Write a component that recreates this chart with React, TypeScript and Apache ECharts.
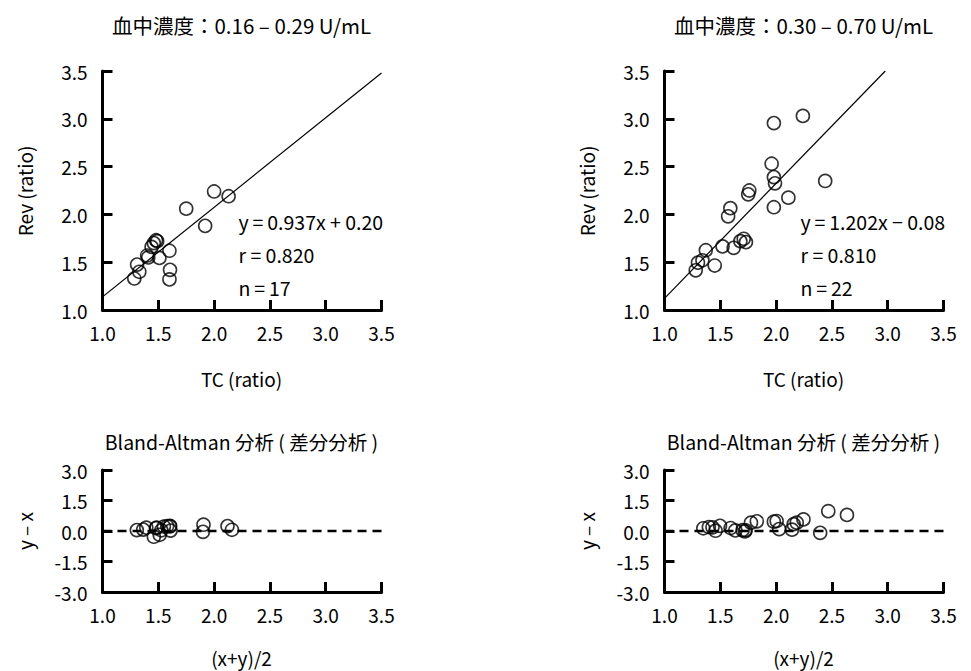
import React, { useEffect, useRef } from "react";
import * as echarts from "echarts";

// ---- data ----
const tcLow = [2.0, 2.13, 1.75, 1.92, 1.48, 1.49, 1.46, 1.44, 1.6, 1.4, 1.41, 1.51, 1.31, 1.33, 1.285, 1.605, 1.6];
const revLow = [2.24, 2.19, 2.06, 1.88, 1.73, 1.72, 1.7, 1.66, 1.62, 1.57, 1.55, 1.545, 1.475, 1.4, 1.33, 1.42, 1.32];

const tcHigh = [2.24, 1.98, 1.96, 1.98, 1.99, 2.44, 1.76, 1.75, 2.11, 1.98, 1.59, 1.57, 1.52, 1.62, 1.68, 1.71, 1.73, 1.37, 1.34, 1.3, 1.45, 1.28];
const revHigh = [3.03, 2.955, 2.53, 2.39, 2.325, 2.35, 2.25, 2.21, 2.175, 2.075, 2.065, 1.98, 1.665, 1.65, 1.72, 1.745, 1.71, 1.625, 1.52, 1.495, 1.465, 1.415];

// regression: [slope, intercept]
const fitLow = [0.937, 0.2];
const fitHigh = [1.202, -0.08];

const titles = ["血中濃度：0.16 – 0.29 U/mL", "血中濃度：0.30 – 0.70 U/mL"];
const baTitle = "Bland-Altman 分析 ( 差分分析 )";
const statsLow = ["y\u2009=\u20090.937x + 0.20", "r = 0.820", "n\u2009=\u200917"];
const statsHigh = ["y\u2009=\u20091.202x \u2212 0.08", "r = 0.810", "n\u2009=\u200922"];

const FONT = "'Noto Sans CJK JP', 'Noto Sans', sans-serif";

function pairs(xs: number[], ys: number[]) {
  return xs.map((x, i) => [x, ys[i]]);
}
function blandAltman(xs: number[], ys: number[]) {
  return xs.map((x, i) => [(x + ys[i]) / 2, ys[i] - x]);
}
function fitLine(fit: number[], xmin: number, xmax: number, ymax: number) {
  const [a, b] = fit;
  const y0 = a * xmin + b;
  let x1 = xmax;
  let y1 = a * xmax + b;
  if (y1 > ymax) {
    y1 = ymax;
    x1 = (ymax - b) / a;
  }
  return [[xmin, y0], [x1, y1]];
}

export default function App() {
  const ref = useRef<HTMLDivElement>(null);
  useEffect(() => {
    if (!ref.current) return;
    const chart = echarts.init(ref.current, null, { renderer: "svg" });

    const L = [102.5, 664.5];
    const W = 279;
    const grids = [
      { left: L[0], top: 71, width: W, height: 239 },
      { left: L[1], top: 71, width: W, height: 239 },
      { left: L[0], top: 470, width: W, height: 122 },
      { left: L[1], top: 470, width: W, height: 122 },
    ];

    const axisCommon = {
      type: "value" as const,
      axisLine: { show: true, onZero: false, lineStyle: { color: "#000", width: 3 } },
      axisTick: { show: true, inside: true, length: 10, lineStyle: { color: "#000", width: 3 } },
      splitLine: { show: false },
    };
    const label = (margin: number) => ({
      color: "#000",
      fontSize: 19,
      fontFamily: FONT,
      margin,
      formatter: (v: number) => v.toFixed(1),
    });

    const xAxis = [0, 1, 2, 3].map((g) => ({
      ...axisCommon,
      gridIndex: g,
      min: 1,
      max: 3.5,
      interval: 0.5,
      axisLabel: label(13),
    }));
    const yAxis = [0, 1, 2, 3].map((g) =>
      g < 2
        ? { ...axisCommon, gridIndex: g, min: 1, max: 3.5, interval: 0.5, axisLabel: label(15) }
        : { ...axisCommon, gridIndex: g, min: -3, max: 3, interval: 1.5, axisLabel: label(15) }
    );

    const scatterStyle = {
      type: "scatter" as const,
      symbol: "circle",
      symbolSize: 13,
      itemStyle: { color: "rgba(0,0,0,0)", borderColor: "#000", borderWidth: 1.6 },
      z: 3,
    };
    const regStyle = {
      type: "line" as const,
      symbol: "none",
      lineStyle: { color: "#000", width: 1.2 },
      z: 2,
    };
    const zeroStyle = {
      type: "line" as const,
      symbol: "none",
      lineStyle: { color: "#000", width: 2.5, type: [9, 6] },
      z: 2,
    };

    const series: any[] = [
      { ...regStyle, xAxisIndex: 0, yAxisIndex: 0, data: fitLine(fitLow, 1, 3.5, 3.5) },
      { ...scatterStyle, xAxisIndex: 0, yAxisIndex: 0, data: pairs(tcLow, revLow) },
      { ...regStyle, xAxisIndex: 1, yAxisIndex: 1, data: fitLine(fitHigh, 1, 3.5, 3.5) },
      { ...scatterStyle, xAxisIndex: 1, yAxisIndex: 1, data: pairs(tcHigh, revHigh) },
      { ...zeroStyle, xAxisIndex: 2, yAxisIndex: 2, data: [[1, 0], [3.5, 0]] },
      { ...scatterStyle, xAxisIndex: 2, yAxisIndex: 2, data: blandAltman(tcLow, revLow) },
      { ...zeroStyle, xAxisIndex: 3, yAxisIndex: 3, data: [[1, 0], [3.5, 0]] },
      { ...scatterStyle, xAxisIndex: 3, yAxisIndex: 3, data: blandAltman(tcHigh, revHigh) },
    ];

    const txt = (x: number, y: number, text: string, opts: any = {}) => ({
      type: "text",
      x,
      y,
      rotation: opts.rotation || 0,
      style: {
        text,
        fill: "#000",
        fontSize: opts.fontSize || 19,
        fontFamily: FONT,
        textAlign: opts.align || "center",
        textVerticalAlign: "middle",
      },
    });

    const graphic: any[] = [];
    [0, 1].forEach((i) => {
      const cx = L[i] + 139;
      graphic.push(txt(cx, 25, titles[i], { fontSize: 20.5 }));
      graphic.push(txt(cx, 441, baTitle, { fontSize: 19.5 }));
      graphic.push(txt(cx, 378, "TC (ratio)"));
      graphic.push(txt(cx, 657, "(x+y)/2"));
      const ax = L[i] - 78;
      graphic.push(txt(ax, 191, "Rev (ratio)", { rotation: Math.PI / 2 }));
      graphic.push(txt(ax, 531, "y \u2013 x", { rotation: Math.PI / 2 }));
      const stats = i === 0 ? statsLow : statsHigh;
      const sx = L[i] + 136;
      stats.forEach((s, k) => graphic.push(txt(sx, 221 + k * 33, s, { align: "left", fontSize: 19.5 })));
    });

    chart.setOption({
      animation: false,
      backgroundColor: "#fff",
      grid: grids,
      xAxis,
      yAxis,
      series,
      graphic,
    });
    return () => chart.dispose();
  }, []);

  return (
    <div
      ref={ref}
      style={{ position: "fixed", left: 0, top: 0, width: 971, height: 671 }}
    />
  );
}
